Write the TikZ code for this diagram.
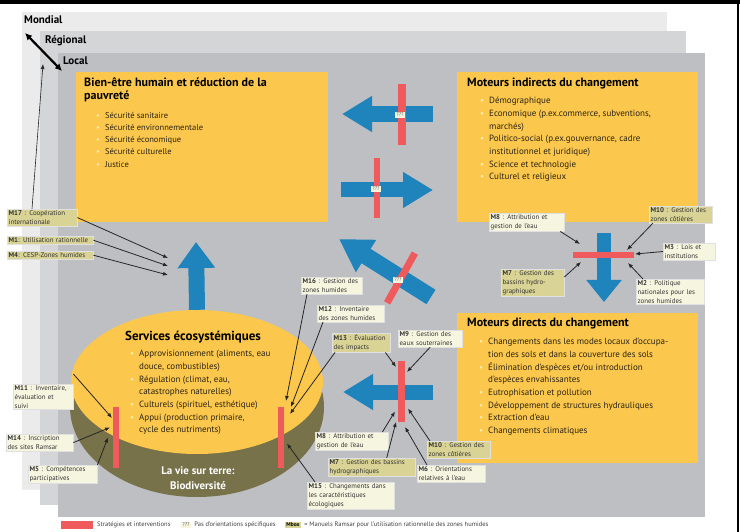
\documentclass[tikz,border=0pt]{standalone}
\usepackage{fontspec}
\setmainfont{PT Sans}
\usetikzlibrary{arrows.meta,positioning,calc,shapes.geometric}
\definecolor{gold}{HTML}{FBC74C}
\definecolor{olive}{HTML}{77724A}
\definecolor{ocean}{HTML}{1F84BB}
\definecolor{coral}{HTML}{EF5A5C}
\definecolor{cream}{HTML}{F6F5DF}
\definecolor{khaki}{HTML}{D9D395}
\definecolor{mond}{HTML}{EBEBEC}
\definecolor{regi}{HTML}{D4D5D7}
\definecolor{loca}{HTML}{BEBFC3}
\definecolor{dot}{HTML}{FFEDB0}
\definecolor{ink}{HTML}{2B2416}
\newcommand{\mk}[1]{\textbf{#1}}
\newcommand{\bl}{\makebox[9pt][l]{\textcolor{dot}{\textbullet}}}
\newcommand{\ct}{\hspace*{9pt}}
\tikzset{panel/.style={fill=gold,anchor=north west,inner sep=0pt},
head/.style={anchor=north west,align=left,inner sep=0pt,font=\bfseries\fontsize{12}{12.5}\selectfont},
itemlist/.style={anchor=north west,align=left,inner sep=0pt,text=ink,font=\fontsize{9}{12.7}\selectfont},
lbl/.style={fill=cream,draw=black!12,anchor=north west,align=left,inner sep=1.5pt,text=black!80,font=\fontsize{6.9}{8.7}\selectfont},
klbl/.style={lbl,fill=khaki},
bar/.style={fill=coral,inner sep=0pt,outer sep=0pt},
qq/.style={fill=cream,inner sep=1.5pt,text=black!60,font=\fontsize{5.5}{6}\selectfont},
bigarr/.style={draw=ocean,line width=15pt,-{Triangle[length=30pt,width=34pt]}},
pin/.style={-{Latex[length=5pt,width=4pt]},line width=0.8pt,black!85},
scale label/.style={anchor=west,inner sep=0pt,font=\bfseries\fontsize{11}{11}\selectfont}}
\begin{document}
\begin{tikzpicture}[x=1pt,y=-1pt]
\useasboundingbox (0,0) rectangle (740,532);
\fill[white] (0,0) rectangle (740,532);
% nested scales
\fill[mond] (22,12) rectangle (667,490);
\fill[regi] (40,31) rectangle (686,505);
\fill[loca] (58,53) rectangle (705,517);
\node[scale label] (mondial) at (24,20) {Mondial};
\node[scale label] (regional) at (45,41) {Régional};
\node[scale label] (local) at (63,61) {Local};
\coordinate (sc1) at (25,33); \coordinate (sc2) at (62,71);
\draw[{Latex[length=7pt,width=7pt]}-{Latex[length=7pt,width=7pt]},line width=2.2pt] (sc1) -- (sc2);
% panels
\node[panel,minimum width=252,minimum height=150] (bien) at (76,72) {};
\node[panel,minimum width=241,minimum height=150] (indir) at (457,72) {};
\node[panel,minimum width=241,minimum height=150] (direct) at (457,313) {};
\node[head] (hbien) at (84,78) {Bien-être humain et réduction de la\\pauvreté};
\node[itemlist,font=\fontsize{8.5}{12.2}\selectfont] (lbien) at (96,112) {\bl Sécurité sanitaire\\\bl Sécurité environnementale\\\bl Sécurité économique\\\bl Sécurité culturelle\\\bl Justice};
\node[head] (hindir) at (467,78) {Moteurs indirects du changement};
\node[itemlist] (lindir) at (480,97) {\bl Démographique\\\bl Economique (p.ex.commerce, subventions,\\\ct marchés)\\\bl Politico-social (p.ex.gouvernance, cadre\\\ct institutionnel et juridique)\\\bl Science et technologie\\\bl Culturel et religieux};
\node[head] (hdirect) at (467,318) {Moteurs directs du changement};
\node[itemlist] (ldirect) at (479,338) {\bl Changements dans les modes locaux d'occupa-\\\ct tion des sols et dans la couverture des sols\\\bl Élimination d'espèces et/ou introduction\\\ct d'espèces envahissantes\\\bl Eutrophisation et pollution\\\bl Développement de structures hydrauliques\\\bl Extraction d'eau\\\bl Changements climatiques};
% ecosystem disc
\node[ellipse,fill=olive,minimum width=254,minimum height=180,inner sep=0pt] (bio) at (197,407) {};
\node[ellipse,fill=gold,minimum width=252,minimum height=144,inner sep=0pt] (serv) at (197,382) {};
\node[font=\bfseries\fontsize{13}{13}\selectfont,inner sep=0pt] (hserv) at (193,337) {Services écosystémiques};
\node[itemlist] (lserv) at (130,350) {\bl Approvisionnement (aliments, eau\\\ct douce, combustibles)\\\bl Régulation (climat, eau,\\\ct catastrophes naturelles)\\\bl Culturels (spirituel, esthétique)\\\bl Appui (production primaire,\\\ct cycle des nutriments)};
\node[align=center,text=white,font=\bfseries\fontsize{11}{15.5}\selectfont] (vie) at (198,478) {La vie sur terre:\\Biodiversité};
% big arrows
\coordinate (a1s) at (433,114); \coordinate (a1e) at (342,114);
\coordinate (a2s) at (341,190); \coordinate (a2e) at (433,190);
\coordinate (a3s) at (431,297); \coordinate (a3e) at (339,239);
\coordinate (a4e) at (196,242);
\coordinate (a5s) at (604,233); \coordinate (a5e) at (604,302);
\coordinate (a6s) at (433,392); \coordinate (a6e) at (343,392);
\draw[bigarr,line width=16pt] (a1s) -- (a1e);
\draw[bigarr] (a2s) -- (a2e);
\draw[bigarr,line width=17pt,-{Triangle[length=32pt,width=36pt]}] (a3s) -- (a3e);
\draw[bigarr,line width=16pt,-{Triangle[length=26pt,width=36pt]}] (serv.north) -- (a4e);
\draw[bigarr,line width=14pt,-{Triangle[length=22pt,width=34pt]}] (a5s) -- (a5e);
\draw[bigarr] (a6s) -- (a6e);
% strategy bars
\node[bar,minimum width=8,minimum height=61] (r1) at (402,114.5) {};
\node[bar,minimum width=6,minimum height=60] (r2) at (376.5,188) {};
\node[bar,minimum width=57,minimum height=7,rotate=60.75] (r3) at (401,278) {};
\node[bar,minimum width=61,minimum height=6] (r4) at (603.5,255) {};
\node[bar,minimum width=7,minimum height=61] (r5) at (401.5,391.5) {};
\node[bar,minimum width=6,minimum height=61] (r6) at (281,437.5) {};
\node[bar,minimum width=6,minimum height=61] (r7) at (116,437.5) {};
\node[qq] (q1) at (400,115) {???};
\node[qq] (q2) at (376,189) {???};
\node[qq] (q3) at (398,280) {???};
% handbook labels
\node[klbl,text width=67] (m17) at (7,209) {\mk{M17} : Coopération\\internationale};
\node[klbl,text width=83] (m1) at (7,236) {\mk{M1}: Utilisation rationnelle};
\node[klbl,text width=83] (m4) at (7,251) {\mk{M4}: CESP-Zones humides};
\node[lbl,text width=57] (m11) at (13,384) {\mk{M11} : Inventaire,\\évaluation et\\suivi};
\node[lbl,text width=64] (m14) at (6,434) {\mk{M14} : Inscription\\des sites Ramsar};
\node[lbl,text width=66] (m5) at (28,465) {\mk{M5} : Compétences\\participatives};
\node[lbl,text width=58] (m16) at (301,277) {\mk{M16} : Gestion des\\zones humides};
\node[lbl,text width=64] (m12) at (317,305) {\mk{M12} : Inventaire\\des zones humides};
\node[klbl,text width=55] (m13) at (332,333) {\mk{M13} : Évaluation\\des impacts};
\node[lbl,text width=61] (m9) at (398,330) {\mk{M9} : Gestion des\\eaux souterraines};
\node[lbl,text width=70] (m8b) at (315,432) {\mk{M8} : Attribution et\\gestion de l'eau};
\node[klbl,text width=84] (m7b) at (328,458) {\mk{M7} : Gestion des bassins\\hydrographiques};
\node[lbl,text width=84] (m15) at (307,482) {\mk{M15} : Changements dans\\les caractéristiques\\écologiques};
\node[klbl,text width=60] (m10b) at (427,441) {\mk{M10} : Gestion des\\zones côtières};
\node[lbl,text width=65] (m6) at (417,465) {\mk{M6} : Orientations\\relatives à l'eau};
\node[lbl,text width=72] (m8a) at (489,213) {\mk{M8} : Attribution et\\gestion de l'eau};
\node[klbl,text width=60] (m10a) at (649,206) {\mk{M10} : Gestion des\\zones côtières};
\node[lbl,text width=49] (m3) at (663,243) {\mk{M3} : Lois et\\institutions};
\node[klbl,text width=60] (m7a) at (501,269) {\mk{M7} : Gestion des\\bassins hydro-\\graphiques};
\node[lbl,text width=65] (m2) at (636,279) {\mk{M2} : Politique\\nationales pour les\\zones humides};
% pointers
\coordinate (p1) at (168,258); \coordinate (p2) at (168,266); \coordinate (p3) at (168,275);
\coordinate (ploc) at (43,64);
\draw[pin] (m17.east) -- (p1); \draw[pin] (m1.east) -- (p2); \draw[pin] (m4.east) -- (p3);
\draw[pin,line width=0.6pt] ($(m17.north west)+(25,0)$) -- (ploc);
\draw[pin] ($(m11.north east)+(0,-10)$) -- ($(r7.north west)+(-1,11)$);
\draw[pin] (m14.east) -- ($(r7.west)+(-3,-10)$);
\draw[pin] (m5.north east) -- ($(r7.west)+(-5,0)$);
\draw[pin] ($(m16.south west)+(6,0)$) -- ($(r6.north east)+(2,-6)$);
\draw[pin] ($(m12.south west)+(6,0)$) -- ($(r6.north east)+(7,0)$);
\draw[pin] ($(m13.south west)+(3,0)$) -- ($(r6.north east)+(6,7)$);
\draw[pin] ($(m15.north west)+(8,0)$) -- ($(r6.east)+(3,6)$);
\draw[pin] ($(m13.south east)+(-5,0)$) -- ($(r5.north west)+(-2,6)$);
\draw[pin] (m9.south) -- ($(r5.north east)+(2,11)$);
\draw[pin] ($(m8b.north east)+(-6,0)$) -- ($(r5.west)+(-3,20)$);
\draw[pin] ($(m7b.north)+(15,0)$) -- ($(r5.south west)+(-2,0)$);
\draw[pin] ($(m10b.north west)+(3,0)$) -- ($(r5.east)+(3,17)$);
\draw[pin] ($(m6.north west)+(10,0)$) -- ($(r5.south east)+(0,5)$);
\draw[pin] ($(m8a.south east)+(-4,0)$) -- ($(r4.north west)+(7,-8)$);
\draw[pin] ($(m10a.south west)+(4,0)$) -- ($(r4.north east)+(-7,-2)$);
\draw[pin] (m3.west) -- ($(r4.east)+(1,-1)$);
\draw[pin] ($(m7a.north east)+(0,8)$) -- ($(r4.south west)+(8,4)$);
\draw[pin] ($(m2.north west)+(7,0)$) -- ($(r4.south east)+(-6,5)$);
% legend
\node[bar,anchor=north west,minimum width=32,minimum height=8] (lg1) at (61,521) {};
\node[anchor=west,inner sep=0pt,text=black!75,font=\fontsize{6.5}{7}\selectfont,right=4pt of lg1] (lt1) {Stratégies et interventions};
\node[qq,anchor=west,right=10pt of lt1] (lg2) {???};
\node[anchor=west,inner sep=0pt,text=black!75,font=\fontsize{6.5}{7}\selectfont,right=3pt of lg2] (lt2) {Pas d'orientations spécifiques};
\node[fill=khaki,inner sep=1.5pt,font=\bfseries\fontsize{5.5}{6}\selectfont,right=9pt of lt2] (lg3) {Mbox};
\node[anchor=west,inner sep=0pt,text=black!75,font=\fontsize{6.5}{7}\selectfont,right=3pt of lg3] (lt3) {= Manuels Ramsar pour l'utilisation rationnelle des zones humides};
% frame
\fill[black] (0,0) rectangle (740,4);
\fill[black] (736.5,0) rectangle (739,532);
\end{tikzpicture}
\end{document}
